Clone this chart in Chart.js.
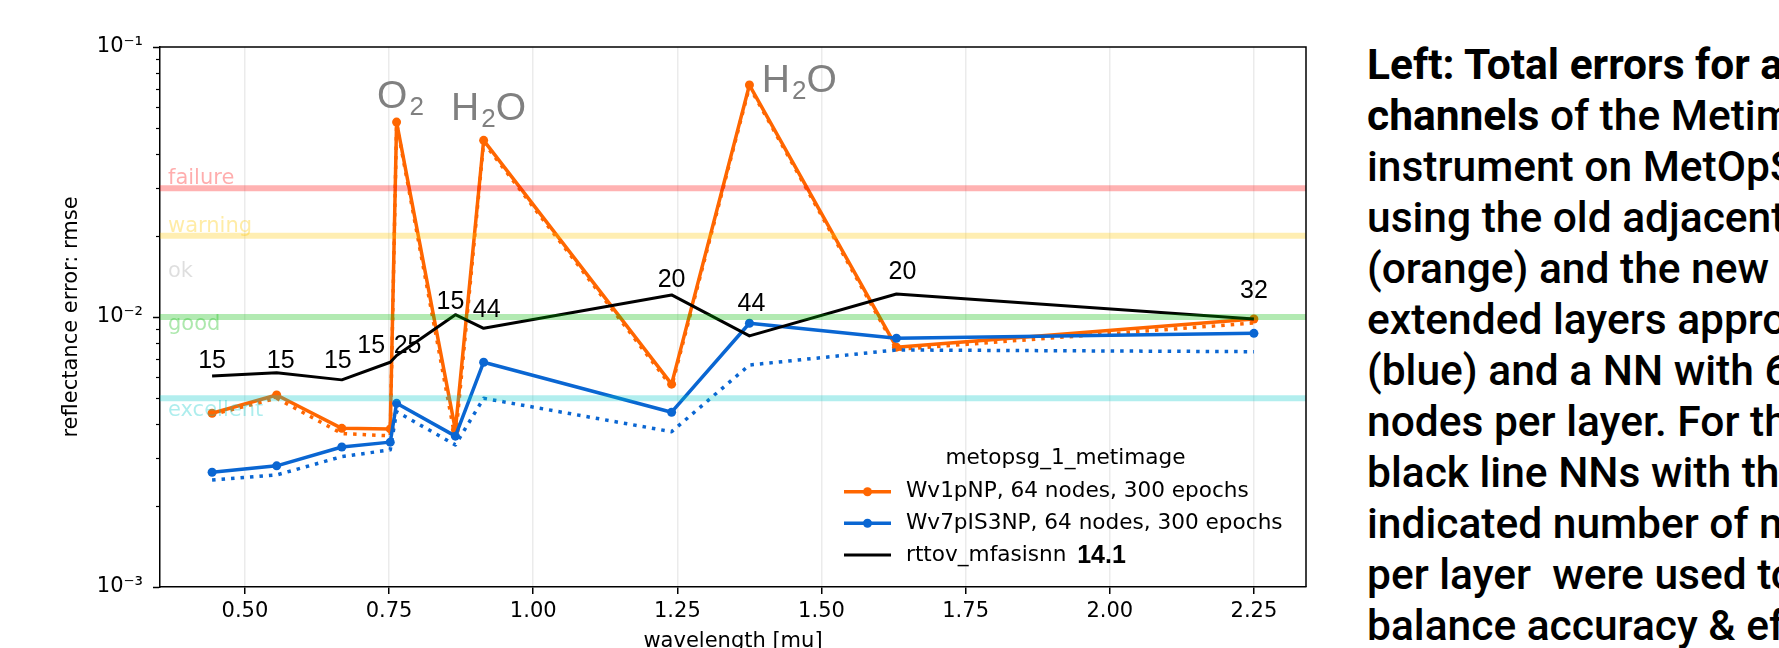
<!DOCTYPE html>
<html>
<head>
<meta charset="utf-8">
<script src="https://cdn.jsdelivr.net/npm/chart.js@4.4.1/dist/chart.umd.min.js"></script>
<style>
  html, body { margin: 0; padding: 0; background: #fff; }
  body { width: 1779px; height: 648px; overflow: hidden; position: relative; }
  #chartBox { position: absolute; left: 0; top: 0; width: 1330px; height: 660px; }
  #note {
    position: absolute; left: 1367px; top: 38.5px; width: 412px; overflow: hidden;
    white-space: pre; font-family: Roboto, sans-serif; font-size: 42.5px; line-height: 51px;
    font-weight: 500; color: #000;
  }
  #note b { font-weight: 700; }
</style>
</head>
<body>
<div id="chartBox"><canvas id="rmseChart" width="1330" height="660"></canvas></div>
<div id="note"><b>Left: Total errors for all</b>
<b>channels</b> of the Metimage
instrument on MetOpSG
using the old adjacent layers
(orange) and the new
extended layers approach
(blue) and a NN with 64
nodes per layer. For the
black line NNs with the
indicated number of nodes
per layer  were used to
balance accuracy &amp; efficiency</div>

<script>
// channel wavelengths [mu]
const wavelengths = [0.443, 0.555, 0.668, 0.752, 0.763, 0.865, 0.914, 1.240, 1.375, 1.630, 2.250]

// rmse per channel
const wv1pnpRmse = [0.00440, 0.00514, 0.00387, 0.00385, 0.0527, 0.00382, 0.0451, 0.00564, 0.0723, 0.00773, 0.00983]
const wv1pnpDotted = [0.00435, 0.00500, 0.00370, 0.00363, 0.0520, 0.00352, 0.0443, 0.00552, 0.0712, 0.00758, 0.00950]
const wv7pis3npRmse = [0.00266, 0.00281, 0.00330, 0.00344, 0.00479, 0.00362, 0.00680, 0.00444, 0.00948, 0.00834, 0.00870]
const wv7pis3npDotted = [0.00249, 0.00260, 0.00304, 0.00322, 0.00446, 0.00336, 0.00500, 0.00376, 0.00664, 0.00755, 0.00744]
const mfasisRmse = [0.00605, 0.00621, 0.00585, 0.00680, 0.00720, 0.0102, 0.00908, 0.01207, 0.00851, 0.01217, 0.00983]
const mfasisNodes = ["15", "15", "15", "15", "25", "15", "44", "20", "44", "20", "32"]
const mfasisVersion = "14.1"

// absorption peaks marked on the orange curve ("_" = next char is subscript)
const gasLabels = ["O_2", "H_2O", "H_2O"]
const gasIndex = [4, 6, 8]

// quality levels
const levelNames = ["failure", "warning", "ok", "good", "excellent"]
const levelValues = [0.03, 0.02, null, 0.01, 0.005]

// axis ticks
const xTickValues = [0.5, 0.75, 1.0, 1.25, 1.5, 1.75, 2.0, 2.25]
const yMajorTicks = [0.001, 0.01, 0.1]
const yMajorLabels = ["10⁻³", "10⁻²", "10⁻¹"]

// styles
const ORANGE = "#ff6600"
const BLUE = "#0a66d2"
const levelLineColors = ["rgba(255,0,0,0.3)", "rgba(255,200,0,0.3)", null, "rgba(0,185,0,0.3)", "rgba(0,200,200,0.3)"]
const levelTextColors = ["rgba(255,0,0,0.32)", "rgba(255,200,0,0.35)", "rgba(0,0,0,0.13)", "rgba(0,185,0,0.32)", "rgba(0,200,200,0.32)"]
const levelTextDy = [-4, -4, 41, 13, 18]
const nodeLabelOffsets = [[0, -8], [4, -5], [-4, -12], [-19, -9], [11, -3], [-5, -6], [3, -11], [0, -8], [2, -25], [6, -15], [0, -21]]
const gasLabelOffsets = [[-19.5, -14], [-32.6, -20], [12.4, 7]]
const DEJAVU = '"DejaVu Sans"'
const ARIAL = '"Liberation Sans"'

const toPoints = (vals) => wavelengths.map((w, i) => ({ x: w, y: vals[i] }))

// matplotlib-like 5% margins on x
const xSpan = wavelengths[wavelengths.length - 1] - wavelengths[0]
const xMin = wavelengths[0] - 0.05 * xSpan
const xMax = wavelengths[wavelengths.length - 1] + 0.05 * xSpan

const isMajor = (v) => yMajorTicks.some((m) => Math.abs(m - v) / m < 1e-6)

const yTickValues = []
for (let d = 0; d < yMajorTicks.length; d++) {
  yTickValues.push(yMajorTicks[d])
  if (d < yMajorTicks.length - 1) {
    for (let k = 2; k <= 9; k++) yTickValues.push(k * yMajorTicks[d])
  }
}

const lineDefaults = { tension: 0, fill: false, borderJoinStyle: "round" }

const orangeSolid = {
  ...lineDefaults, label: "Wv1pNP, 64 nodes, 300 epochs", data: toPoints(wv1pnpRmse),
  borderColor: ORANGE, backgroundColor: ORANGE, borderWidth: 3.5,
  pointRadius: 4.5, pointBorderWidth: 0, pointBackgroundColor: ORANGE, order: 3,
}
const orangeDotted = {
  ...lineDefaults, label: "", data: toPoints(wv1pnpDotted),
  borderColor: ORANGE, borderWidth: 3.5, borderDash: [3.5, 6], borderCapStyle: "butt",
  pointRadius: 0, order: 4,
}
const blueSolid = {
  ...lineDefaults, label: "Wv7pIS3NP, 64 nodes, 300 epochs", data: toPoints(wv7pis3npRmse),
  borderColor: BLUE, backgroundColor: BLUE, borderWidth: 3.5,
  pointRadius: 4.5, pointBorderWidth: 0, pointBackgroundColor: BLUE, order: 1,
}
const blueDotted = {
  ...lineDefaults, label: "", data: toPoints(wv7pis3npDotted),
  borderColor: BLUE, borderWidth: 3.5, borderDash: [3.5, 6], borderCapStyle: "butt",
  pointRadius: 0, order: 2,
}
const blackLine = {
  ...lineDefaults, label: "rttov_mfasisnn", data: toPoints(mfasisRmse),
  borderColor: "#000", backgroundColor: "#000", borderWidth: 3, pointRadius: 0, order: 0,
}

const legendEntries = [orangeSolid, blueSolid, blackLine]

// draws quality bands, text annotations, legend and the rest of the frame
const overlay = {
  id: "overlay",
  afterDatasetsDraw(chart) {
    const { ctx, chartArea: area } = chart
    const xs = chart.scales.x
    const ys = chart.scales.y
    ctx.save()

    // quality bands (on top of the data, transparent)
    ctx.lineWidth = 6
    levelValues.forEach((v, i) => {
      if (v === null) return
      const py = ys.getPixelForValue(v)
      ctx.strokeStyle = levelLineColors[i]
      ctx.beginPath()
      ctx.moveTo(area.left, py)
      ctx.lineTo(area.right, py)
      ctx.stroke()
    })
    ctx.font = `21px ${DEJAVU}`
    ctx.textAlign = "left"
    ctx.textBaseline = "alphabetic"
    levelNames.forEach((name, i) => {
      const v = levelValues[i] ?? levelValues[i - 1]
      ctx.fillStyle = levelTextColors[i]
      ctx.fillText(name, area.left + 8, ys.getPixelForValue(v) + levelTextDy[i])
    })

    // number of nodes per layer on the black line
    ctx.font = `25px ${ARIAL}`
    ctx.textAlign = "center"
    ctx.fillStyle = "#000"
    mfasisNodes.forEach((txt, i) => {
      const px = xs.getPixelForValue(wavelengths[i])
      const py = ys.getPixelForValue(mfasisRmse[i])
      ctx.fillText(txt, px + nodeLabelOffsets[i][0], py + nodeLabelOffsets[i][1])
    })

    // gas absorption labels
    ctx.textAlign = "left"
    ctx.fillStyle = "#808080"
    gasLabels.forEach((txt, n) => {
      const i = gasIndex[n]
      let px = xs.getPixelForValue(wavelengths[i]) + gasLabelOffsets[n][0]
      const py = ys.getPixelForValue(wv1pnpRmse[i]) + gasLabelOffsets[n][1]
      for (let c = 0; c < txt.length; c++) {
        if (txt[c] === "_") {
          c++
          ctx.font = `26px ${ARIAL}`
          px += 2
          ctx.fillText(txt[c], px, py + 7)
          px += ctx.measureText(txt[c]).width
        } else {
          ctx.font = `39px ${ARIAL}`
          ctx.fillText(txt[c], px, py)
          px += ctx.measureText(txt[c]).width
        }
      }
    })

    // legend
    ctx.font = `21.6px ${DEJAVU}`
    ctx.textAlign = "center"
    ctx.fillStyle = "#000"
    ctx.fillText("metopsg_1_metimage", 1065.5, 464)
    legendEntries.forEach((ds, k) => {
      const rowY = 491.7 + k * 31.6
      ctx.strokeStyle = ds.borderColor
      ctx.lineWidth = ds.borderWidth
      ctx.setLineDash([])
      ctx.beginPath()
      ctx.moveTo(844, rowY)
      ctx.lineTo(891, rowY)
      ctx.stroke()
      if (ds.pointRadius > 0) {
        ctx.fillStyle = ds.pointBackgroundColor
        ctx.beginPath()
        ctx.arc(867.5, rowY, ds.pointRadius, 0, Math.PI * 2)
        ctx.fill()
      }
      ctx.fillStyle = "#000"
      ctx.textAlign = "left"
      ctx.textBaseline = "middle"
      ctx.font = `21.6px ${DEJAVU}`
      ctx.fillText(ds.label, 906, rowY)
      if (ds === blackLine) {
        const w = ctx.measureText(ds.label + " ").width
        ctx.font = `bold 25px ${ARIAL}`
        ctx.fillText(mfasisVersion, 906 + w + 4, rowY + 1)
      }
      ctx.textBaseline = "alphabetic"
    })

    // minor y ticks
    ctx.strokeStyle = "#000"
    ctx.lineWidth = 1.2
    yTickValues.forEach((v) => {
      if (isMajor(v)) return
      const py = Math.round(ys.getPixelForValue(v)) + 0.5
      ctx.beginPath()
      ctx.moveTo(area.left - 4, py)
      ctx.lineTo(area.left, py)
      ctx.stroke()
    })

    // top and right frame
    ctx.lineWidth = 1.5
    ctx.beginPath()
    ctx.moveTo(area.left, area.top)
    ctx.lineTo(area.right, area.top)
    ctx.lineTo(area.right, area.bottom)
    ctx.stroke()
    ctx.restore()
  },
}

new Chart(document.getElementById("rmseChart"), {
  type: "line",
  data: { datasets: [blackLine, blueSolid, blueDotted, orangeSolid, orangeDotted] },
  options: {
    responsive: false,
    animation: false,
    devicePixelRatio: 1,
    layout: { padding: { left: 0, top: 47, right: 24, bottom: 3 } },
    plugins: { legend: { display: false }, tooltip: { enabled: false }, title: { display: false } },
    scales: {
      x: {
        type: "linear",
        min: xMin,
        max: xMax,
        afterBuildTicks: (scale) => { scale.ticks = xTickValues.map((v) => ({ value: v })) },
        afterFit: (scale) => { scale.height = 70 },
        ticks: {
          autoSkip: false, maxRotation: 0, padding: 5, color: "#000",
          font: { family: "DejaVu Sans", size: 21 },
          callback: (v) => Number(v).toFixed(2),
        },
        grid: { color: "rgba(0,0,0,0.08)", lineWidth: 1.5, tickColor: "#000", tickLength: 7, tickWidth: 1.5 },
        border: { color: "#000", width: 1.5 },
        title: {
          display: true, text: "wavelength [mu]", color: "#000",
          font: { family: "DejaVu Sans", size: 21 }, padding: { top: 0, bottom: 3 },
        },
      },
      y: {
        type: "logarithmic",
        min: 0.001,
        max: 0.1,
        afterBuildTicks: (scale) => { scale.ticks = yTickValues.map((v) => ({ value: v, major: isMajor(v) })) },
        afterFit: (scale) => { scale.width = 160 },
        ticks: {
          autoSkip: false, padding: 10, color: "#000",
          font: { family: "DejaVu Sans", size: 21 },
          callback: (v) => {
            const k = yMajorTicks.findIndex((m) => Math.abs(m - v) / m < 1e-6)
            return k >= 0 ? yMajorLabels[k] : ""
          },
        },
        grid: {
          drawOnChartArea: false, tickLength: 7, tickWidth: 1.5,
          tickColor: (c) => (c.tick && isMajor(c.tick.value) ? "#000" : "rgba(0,0,0,0)"),
        },
        border: { color: "#000", width: 1.5 },
        title: {
          display: true, text: "reflectance error: rmse", color: "#000",
          font: { family: "DejaVu Sans", size: 21 }, padding: { top: 59, bottom: 0 },
        },
      },
    },
  },
  plugins: [overlay],
})
</script>
</body>
</html>
